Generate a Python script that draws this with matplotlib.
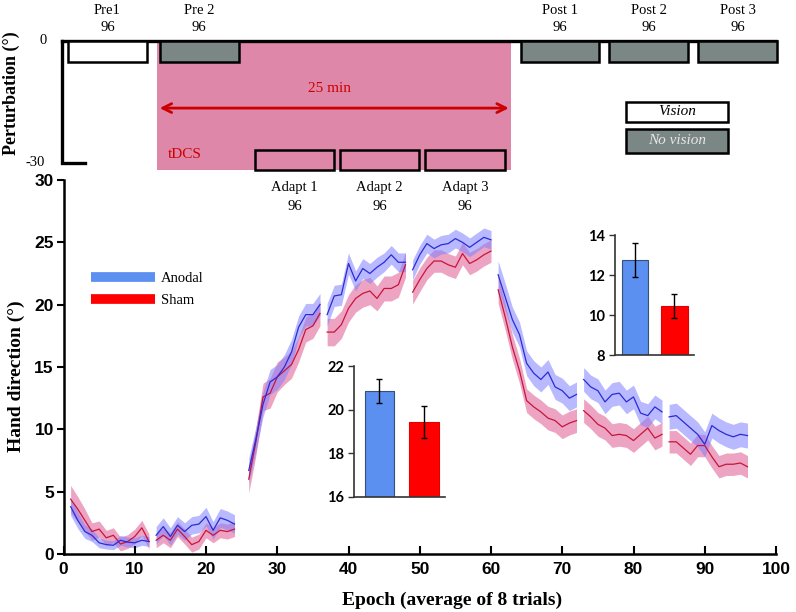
import numpy as np
import matplotlib.pyplot as plt
from matplotlib.patches import Rectangle
from matplotlib.lines import Line2D

nan = np.nan

# === data ===
epochs = np.arange(1, 97)
anodal_mean = [3.8, 2.7, 1.8, 1.5, 0.9, 0.75, 0.7, 1.1, 0.95, 0.9, 1.1, 1.0,
               1.5, 2.2, 1.4, 2.3, 1.8, 2.3, 2.4, 3.0, 1.9, 2.9, 2.7, 2.4,
               nan, 6.7, 9.2, 12.0, 13.8, 14.2, 15.0, 16.2, 18.2, 19.2, 19.2, 20.0,
               19.2, 20.7, 20.8, 23.3, 21.9, 22.9, 22.5, 23.0, 23.4, 24.0, 23.4, 23.4,
               22.8, 24.0, 24.9, 24.5, 24.8, 24.9, 25.3, 25.0, 24.6, 25.0, 25.4, 25.2,
               22.4, 20.6, 18.8, 17.6, 15.3, 14.5, 14.0, 14.6, 13.4, 13.1, 12.5, 12.8,
               14.0, 13.4, 13.1, 12.2, 12.8, 12.9, 12.2, 12.6, 11.3, 11.1, 11.8, 11.4,
               11.0, 11.1, 10.6, 10.1, 9.6, 8.8, 10.3, 9.9, 9.6, 9.4, 9.6, 9.5]
anodal_se = [0.7, 0.65, 0.55, 0.5, 0.4, 0.35, 0.35, 0.4, 0.4, 0.4, 0.4, 0.4,
             0.7, 0.7, 0.7, 0.7, 0.7, 0.7, 0.7, 0.75, 0.7, 0.75, 0.75, 0.75,
             nan, 1.0, 1.0, 1.0, 1.0, 1.0, 1.0, 1.0, 0.9, 0.9, 0.9, 0.9,
             0.9, 0.85, 0.85, 0.85, 0.8, 0.8, 0.8, 0.8, 0.75, 0.75, 0.75, 0.75,
             0.8, 0.75, 0.75, 0.75, 0.75, 0.75, 0.75, 0.75, 0.75, 0.75, 0.75, 0.75,
             1.1, 1.1, 1.0, 1.0, 1.0, 1.0, 1.0, 1.0, 1.0, 1.0, 1.0, 1.0,
             0.95, 0.95, 0.95, 0.95, 0.95, 0.95, 0.95, 0.95, 0.95, 0.95, 0.95, 0.95,
             1.0, 1.0, 1.0, 1.0, 1.0, 1.0, 1.0, 1.0, 1.0, 1.0, 1.0, 1.0]
sham_mean = [4.4, 3.6, 2.7, 1.8, 2.0, 1.3, 1.5, 0.8, 1.0, 1.4, 2.1, 1.0,
             1.1, 1.5, 1.1, 2.0, 1.4, 0.75, 1.0, 1.9, 1.5, 1.9, 1.8, 2.0,
             nan, 6.0, 9.0, 12.6, 12.9, 14.2, 14.7, 15.2, 16.4, 18.0, 18.3, 19.3,
             17.8, 17.8, 18.4, 19.7, 20.5, 20.9, 21.1, 20.5, 21.3, 21.3, 21.6, 23.2,
             21.0, 22.0, 22.9, 23.5, 23.5, 23.2, 23.0, 24.1, 23.3, 23.6, 24.0, 24.3,
             21.2, 19.0, 16.6, 14.7, 12.3, 11.8, 11.4, 10.9, 10.7, 10.2, 10.5, 10.7,
             11.5, 11.0, 10.4, 10.1, 9.5, 9.6, 9.5, 9.1, 9.6, 10.1, 9.3, 9.6,
             9.0, 9.0, 8.5, 8.0, 8.7, 8.7, 7.8, 7.0, 7.2, 7.2, 7.3, 7.0]
sham_se = [1.1, 1.0, 0.9, 0.7, 0.65, 0.6, 0.6, 0.55, 0.55, 0.6, 0.6, 0.6,
           0.6, 0.6, 0.6, 0.6, 0.6, 0.6, 0.6, 0.6, 0.6, 0.6, 0.6, 0.6,
           nan, 1.1, 1.1, 1.1, 1.2, 1.2, 1.1, 1.1, 1.0, 1.0, 1.0, 1.0,
           1.1, 1.1, 1.1, 1.1, 1.1, 1.1, 1.1, 1.0, 1.0, 1.0, 1.0, 1.0,
           0.95, 0.95, 0.9, 0.9, 0.9, 0.9, 0.9, 0.9, 0.9, 0.9, 0.9, 0.9,
           1.1, 1.05, 1.0, 1.0, 0.95, 0.95, 0.95, 0.95, 0.95, 0.95, 0.95, 0.95,
           0.95, 0.95, 0.95, 0.95, 0.95, 0.95, 0.95, 0.95, 0.95, 0.95, 0.95, 0.95,
           0.9, 0.9, 0.9, 0.9, 0.9, 0.9, 0.9, 0.9, 0.9, 0.9, 0.9, 0.9]
block_edges = [0, 12, 24, 36, 48, 60, 72, 84, 96]

# protocol schematic (epoch units, perturbation in deg)
block_names = ["Pre1", "Pre 2", "Adapt 1", "Adapt 2", "Adapt 3", "Post 1", "Post 2", "Post 3"]
block_trials = [96, 96, 96, 96, 96, 96, 96, 96]
block_start = [0.6, 13.5, 26.9, 38.8, 50.8, 64.2, 76.5, 89.0]
block_end = [11.7, 24.6, 37.9, 49.9, 61.9, 75.2, 87.7, 100.2]
block_top = [0, 0, -26.8, -26.8, -26.8, 0, 0, 0]
block_bottom = [-5.2, -5.2, -31.7, -31.7, -31.7, -5.2, -5.2, -5.2]
block_fill = ["white", "#7b8785", "none", "none", "none", "#7b8785", "#7b8785", "#7b8785"]
tdcs_start, tdcs_end = 13.1, 62.8

# insets
groups = ["Anodal", "Sham"]
adapt_val = [20.85, 19.43]
adapt_err = [0.55, 0.73]
post_val = [12.75, 10.45]
post_err = [0.85, 0.6]

SERIF = "Liberation Serif"
SANS = "Liberation Sans"
blue_c, red_c = "#5b8ff0", "#ff0000"

fig = plt.figure(figsize=(7.96, 6.12), dpi=100)
W, H = 796, 612

def px_axes(l, r, t, b):
    return [l / W, 1 - b / H, (r - l) / W, (b - t) / H]

# === main axes ===
ax = fig.add_axes(px_axes(63.5, 776, 180, 554))
for a, b in zip(block_edges[:-1], block_edges[1:]):
    x = epochs[a:b]
    for m, s, fc, al in [(sham_mean, sham_se, "#dc4a86", 0.5), (anodal_mean, anodal_se, "#8080ff", 0.55)]:
        m = np.array(m[a:b]); s = np.array(s[a:b])
        ok = ~np.isnan(m)
        ax.fill_between(x[ok], m[ok] - s[ok], m[ok] + s[ok], color=fc, alpha=al, lw=0)
    ys = np.array(sham_mean[a:b]); ya = np.array(anodal_mean[a:b])
    ax.plot(x, ys, color="#c8143c", lw=0.9)
    ax.plot(x, ya, color="#2b2bd6", lw=0.9)

ax.set_xlim(0, 100)
ax.set_ylim(0, 30)
ax.set_xticks(np.arange(0, 101, 10))
ax.set_yticks(np.arange(0, 31, 5))
for sp in ["top", "right"]:
    ax.spines[sp].set_visible(False)
for sp in ["left", "bottom"]:
    ax.spines[sp].set_linewidth(1.8)
ax.tick_params(axis="x", direction="in", length=6, width=1.5, pad=6)
ax.tick_params(axis="y", direction="out", length=5, width=1.5, pad=2)
for lab in ax.get_xticklabels() + ax.get_yticklabels():
    lab.set_fontfamily(SANS)
    lab.set_fontweight("bold")
    lab.set_fontsize(12.5)
ax.patch.set_alpha(0)

handles = [Line2D([], [], color=blue_c, lw=7, solid_capstyle="butt"),
           Line2D([], [], color=red_c, lw=7, solid_capstyle="butt")]
ax.legend(handles, ["Anodal", "Sham"], loc="upper left", bbox_to_anchor=(0.02, 0.79),
          frameon=False, handlelength=4.4, handletextpad=0.4, labelspacing=0.6,
          prop={"family": SERIF, "size": 10.5})

fig.text(452 / W, 1 - 600 / H, "Epoch (average of 8 trials)", family=SERIF, weight="bold",
         fontsize=14, ha="center", va="center")
fig.text(16 / W, 1 - 376 / H, "Hand direction (°)", family=SERIF, weight="bold",
         fontsize=14, ha="center", va="center", rotation=90)

# === protocol schematic ===
axt = fig.add_axes(px_axes(63.5, 776, 2, 178))
axt.set_xlim(0, 100)
axt.set_ylim(-33.69, 9.59)
axt.axis("off")
axt.add_patch(Rectangle((tdcs_start, -31.7), tdcs_end - tdcs_start, 31.7,
                        facecolor="#de87a8", edgecolor="none", zorder=1))
axt.plot([-0.2, 100], [0, 0], color="black", lw=2.4, zorder=2, clip_on=False)
axt.plot([-0.2, -0.2, 3.0], [0, -30, -30], color="black", lw=2.4, zorder=2,
         clip_on=False, solid_joinstyle="miter")
for name, n, x0, x1, yt, yb, fc in zip(block_names, block_trials, block_start, block_end,
                                      block_top, block_bottom, block_fill):
    axt.add_patch(Rectangle((x0, yb), x1 - x0, yt - yb, facecolor=fc, edgecolor="black",
                            lw=1.8, zorder=3, clip_on=False))
    xc = (x0 + x1) / 2
    if yt == 0:
        axt.text(xc, 7.6, name, family=SERIF, fontsize=10.5, ha="center", va="center")
        axt.text(xc, 3.4, str(n), family=SERIF, fontsize=10.5, ha="center", va="center")
    else:
        axt.text(xc, -36.1, name, family=SERIF, fontsize=10.5, ha="center", va="center")
        axt.text(xc, -40.8, str(n), family=SERIF, fontsize=10.5, ha="center", va="center")

axt.text(-2.9, 0, "0", family=SERIF, fontsize=10.5, ha="center", va="center")
axt.text(-2.6, -30, "-30", family=SERIF, fontsize=10.5, ha="right", va="center")
fig.text(11 / W, 1 - 93 / H, "Perturbation (°)", family=SERIF, weight="bold",
         fontsize=13, ha="center", va="center", rotation=90)

axt.annotate("", xy=(62.5, -16.5), xytext=(13.5, -16.5),
             arrowprops=dict(arrowstyle="<->", color="#cc0000", lw=2,
                             mutation_scale=16, shrinkA=0, shrinkB=0), zorder=4)
axt.text(37.4, -11.6, "25 min", family=SERIF, fontsize=11, color="#cc0000",
         ha="center", va="center")
axt.text(14.7, -28, "tDCS", family=SERIF, fontsize=11, color="#cc0000",
         ha="left", va="center")

# vision legend
axt.add_patch(Rectangle((79.0, -19.9), 14.3, 4.9, facecolor="white", edgecolor="black", lw=1.8))
axt.add_patch(Rectangle((79.0, -27.5), 14.3, 5.9, facecolor="#7b8785", edgecolor="black", lw=1.8))
axt.text(86.15, -17.45, "Vision", family=SERIF, style="italic", fontsize=11,
         ha="center", va="center")
axt.text(86.15, -24.55, "No vision", family=SERIF, style="italic", fontsize=11,
         color="#e6e6e6", ha="center", va="center")

# === insets ===
def inset(rect, vals, errs, ylim, ticks, xlim):
    ai = fig.add_axes(rect)
    ai.bar([0, 1], vals, width=0.66, color=[blue_c, red_c],
           edgecolor=["#35507a", "#e00000"], lw=0.8)
    ai.errorbar([0, 1], vals, yerr=errs, fmt="none", ecolor="black", elinewidth=1,
                capsize=2.5, capthick=1)
    ai.set_ylim(*ylim)
    ai.set_xlim(*xlim)
    ai.set_yticks(ticks)
    ai.set_xticks([])
    for sp in ["top", "right"]:
        ai.spines[sp].set_visible(False)
    for sp in ["left", "bottom"]:
        ai.spines[sp].set_color("#333333")
        ai.spines[sp].set_linewidth(1.2)
    ai.tick_params(axis="y", length=4, width=1, color="#333333", pad=3)
    for lab in ai.get_yticklabels():
        lab.set_fontfamily("Lato")
        lab.set_fontweight("bold")
        lab.set_fontsize(10.5)
    ai.patch.set_alpha(0)
    return ai

inset(px_axes(354, 445, 366, 497), adapt_val, adapt_err, (16, 22), [16, 18, 20, 22], (-0.573, 1.472))
inset(px_axes(615, 694, 235, 355), post_val, post_err, (8, 14), [8, 10, 12, 14], (-0.506, 1.494))

fig.savefig("out.png", dpi=100)
